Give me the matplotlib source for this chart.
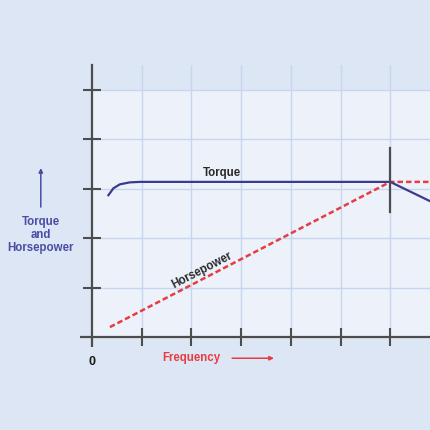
import matplotlib
matplotlib.use('Agg')
import matplotlib.pyplot as plt

# ---- data (frequency units = one grid step) ----
torque_x = [0.33, 0.43, 0.56, 0.76, 0.97, 6.0, 6.8]
torque_y = [2.87, 3.01, 3.09, 3.13, 3.14, 3.14, 2.75]
hp_x = [0.36, 6.0, 6.8]
hp_y = [0.20, 3.14, 3.14]
x_ticks = [1, 2, 3, 4, 5, 6]
y_ticks = [1, 2, 3, 4, 5]
rated_x = 6.0
rated_span = [2.53, 3.83]

outer_bg = '#dde6f4'
plot_bg = '#edf2fa'
grid_col = '#c6d6ec'
axis_col = '#4d4d4d'
torque_col = '#3b3b8e'
hp_col = '#e63c42'
ylab_col = '#4b4ba6'

plt.rcParams['font.family'] = ['Liberation Sans', 'DejaVu Sans']

fig = plt.figure(figsize=(4.3, 4.3), dpi=100)
fig.patch.set_facecolor(outer_bg)
ax = fig.add_axes([92/430, 93/430, 338/430, 272/430])
ax.set_facecolor(outer_bg)
ax.set_xlim(0, 6.8)
ax.set_ylim(0, 5.506)

# lighter plotting field below the top tick
ax.axhspan(0, 5, color=plot_bg, zorder=0)

# grid
for gx in x_ticks:
    ax.axvline(gx, color=grid_col, lw=1.0, zorder=1)
for gy in y_ticks:
    ax.axhline(gy, color=grid_col, lw=1.0, zorder=1)

for s in ['top', 'right']:
    ax.spines[s].set_visible(False)
for s in ['left', 'bottom']:
    ax.spines[s].set_color(axis_col)
    ax.spines[s].set_linewidth(1.6)
# axis stubs past the origin
ax.plot([-0.24, 0], [0, 0], color=axis_col, lw=1.6, clip_on=False, solid_capstyle='butt')
ax.plot([0, 0], [-0.2, 0], color=axis_col, lw=1.6, clip_on=False, solid_capstyle='butt')

ax.set_xticks(x_ticks)
ax.set_yticks(y_ticks)
ax.set_xticklabels([])
ax.set_yticklabels([])
ax.tick_params(direction='inout', length=13.5, width=1.5, color=axis_col)

# curves
ax.plot(torque_x, torque_y, color=torque_col, lw=1.6, zorder=4, clip_on=False)
ax.plot(hp_x, hp_y, color=hp_col, lw=1.8, ls=(0, (2.2, 1.2)), zorder=3, clip_on=False)
ax.plot([rated_x, rated_x], rated_span, color=axis_col, lw=1.6, zorder=5)

bold = dict(fontweight='bold', fontsize=8.3)
ax.text(2.62, 3.32, 'Torque', color='#2a2a2a', ha='center', va='center', **bold)
ax.text(2.21, 1.34, 'Horsepower', color='#2a2a2a', ha='center', va='center',
        rotation=27.4, rotation_mode='anchor', **bold)

ax.text(0, -0.5, '0', color='#1a1a1a', ha='center', va='center',
        fontweight='bold', fontsize=9, clip_on=False)
ax.text(1.99, -0.43, 'Frequency', color=hp_col, ha='center', va='center', **bold)
ax.annotate('', xy=(3.66, -0.43), xytext=(2.82, -0.43), xycoords='data',
            annotation_clip=False,
            arrowprops=dict(arrowstyle='-|>', color=hp_col, lw=1.1,
                            mutation_scale=6, shrinkA=0, shrinkB=0))

ax.text(-1.03, 2.06, 'Torque\nand\nHorsepower', color=ylab_col, ha='center',
        va='center', linespacing=1.12, **bold)
ax.annotate('', xy=(-1.03, 3.42), xytext=(-1.03, 2.63), xycoords='data',
            annotation_clip=False,
            arrowprops=dict(arrowstyle='-|>', color=ylab_col, lw=1.1,
                            mutation_scale=6, shrinkA=0, shrinkB=0))

fig.savefig('out.png', dpi=100, facecolor=outer_bg)
